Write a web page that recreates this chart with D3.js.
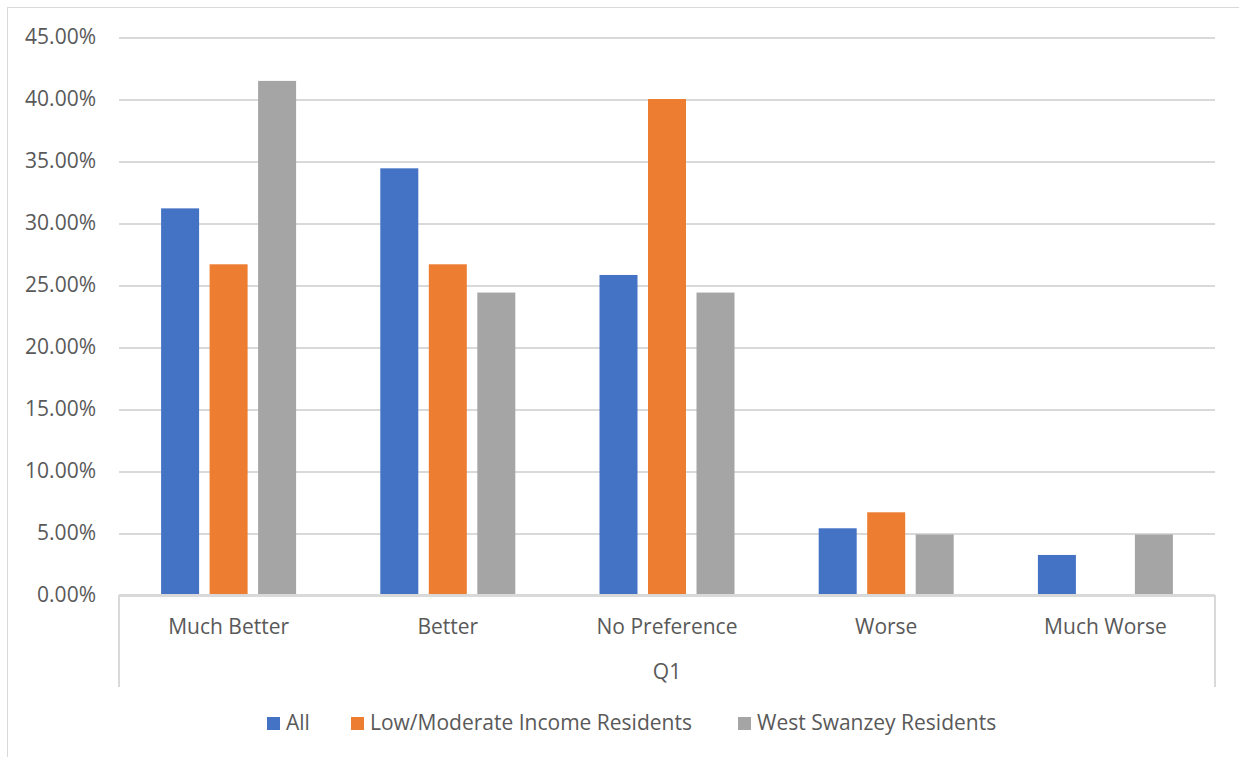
<!DOCTYPE html>
<html>
<head>
<meta charset="utf-8">
<script src="https://cdn.jsdelivr.net/npm/d3@7"></script>
<style>
  html, body { margin: 0; padding: 0; background: #fff; }
  svg { display: block; font-family: "Open Sans", Lato, sans-serif; }
</style>
</head>
<body>
<svg id="chart" width="1239" height="757"></svg>
<script>
// Survey responses to Q1, share of respondents per group
const categories = ["Much Better", "Better", "No Preference", "Worse", "Much Worse"];
const seriesNames = ["All", "Low/Moderate Income Residents", "West Swanzey Residents"];
const allValues = [0.3118, 0.3441, 0.2581, 0.0538, 0.0323];
const lowModValues = [0.2667, 0.2667, 0.4000, 0.0667, 0.0000];
const westSwanzeyValues = [0.4146, 0.2439, 0.2439, 0.0488, 0.0488];
const seriesColors = ["#4472C4", "#ED7D31", "#A5A5A5"];
const yTicks = [0, 0.05, 0.10, 0.15, 0.20, 0.25, 0.30, 0.35, 0.40, 0.45];
const groupLabel = "Q1";

const seriesValues = [allValues, lowModValues, westSwanzeyValues];
const rows = categories.map((c, i) => ({
  category: c,
  values: seriesNames.map((s, j) => ({ series: s, idx: j, value: seriesValues[j][i] }))
}));

const svg = d3.select("#chart");
const plot = { left: 119, right: 1215, top: 37, bottom: 595 };
const textColor = "#595959";
const gridColor = "#D9D9D9";
const fontSize = 21;

// outer chart frame
svg.append("rect")
  .attr("x", 7.5).attr("y", 7.5)
  .attr("width", 1260).attr("height", 780)
  .attr("fill", "none").attr("stroke", gridColor).attr("stroke-width", 1);

const y = d3.scaleLinear().domain([0, 0.45]).range([plot.bottom, plot.top]);
const x0 = d3.scaleBand().domain(categories).range([plot.left, plot.right]).padding(0);
const half = 67.5;
const x1 = d3.scaleBand().domain(seriesNames)
  .range([x0.bandwidth() / 2 - half, x0.bandwidth() / 2 + half])
  .paddingInner(0.2165).paddingOuter(0);

// horizontal gridlines and value labels
const yAxis = d3.axisLeft(y).tickValues(yTicks)
  .tickFormat(d => (d * 100).toFixed(2) + "%")
  .tickSize(-(plot.right - plot.left)).tickPadding(23);
const gy = svg.append("g").attr("transform", `translate(${plot.left},0)`).call(yAxis);
gy.select(".domain").remove();
gy.selectAll(".tick line").attr("stroke", gridColor).attr("stroke-width", 2)
  .attr("shape-rendering", "crispEdges");
gy.selectAll(".tick text").attr("fill", textColor).attr("font-size", fontSize)
  .attr("font-family", "'Open Sans', sans-serif");

// bars
const groups = svg.append("g").selectAll("g").data(rows).join("g")
  .attr("transform", d => `translate(${x0(d.category)},0)`);
groups.selectAll("rect").data(d => d.values).join("rect")
  .attr("x", d => x1(d.series))
  .attr("width", x1.bandwidth())
  .attr("y", d => y(d.value))
  .attr("height", d => y(0) - y(d.value))
  .attr("fill", d => seriesColors[d.idx]);

// category axis with multi-level bracket
const xAxis = d3.axisBottom(x0).tickSize(0).tickPadding(0);
const gx = svg.append("g").attr("transform", `translate(0,${plot.bottom})`).call(xAxis);
gx.select(".domain").attr("stroke", gridColor).attr("stroke-width", 2)
  .attr("d", `M${plot.left},0H${plot.right}`);
gx.selectAll(".tick text").attr("fill", textColor).attr("font-size", fontSize)
  .attr("font-family", "'Open Sans', sans-serif")
  .attr("y", 39).attr("dy", null);

svg.append("g").selectAll("line").data([plot.left, plot.right]).join("line")
  .attr("x1", d => d).attr("x2", d => d)
  .attr("y1", plot.bottom).attr("y2", 687)
  .attr("stroke", gridColor).attr("stroke-width", 2);

svg.append("text")
  .attr("x", (plot.left + plot.right) / 2).attr("y", 679)
  .attr("text-anchor", "middle").attr("fill", textColor).attr("font-size", fontSize)
  .text(groupLabel);

// legend
const legendX = [267, 351, 738];
const legend = svg.append("g").selectAll("g").data(seriesNames).join("g")
  .attr("transform", (d, i) => `translate(${legendX[i]},717)`);
legend.append("rect").attr("width", 13).attr("height", 13)
  .attr("fill", (d, i) => seriesColors[i]);
legend.append("text").attr("x", 19).attr("y", 13)
  .attr("fill", textColor).attr("font-size", fontSize).text(d => d);
</script>
</body>
</html>
